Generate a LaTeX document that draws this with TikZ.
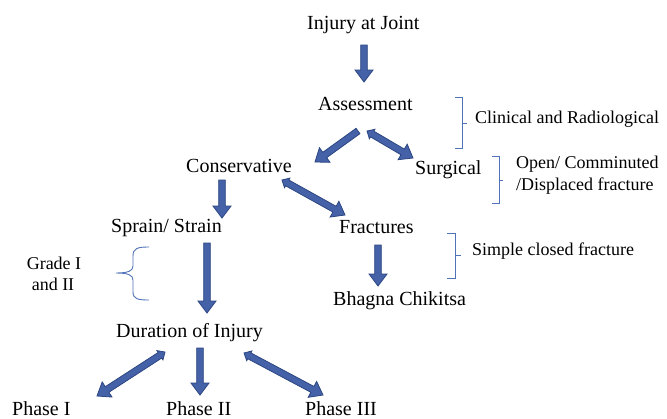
\documentclass[tikz,border=0pt]{standalone}
\usepackage{fontspec}
\setmainfont{Liberation Serif}
\usetikzlibrary{calc}
\definecolor{afill}{HTML}{4562A8}
\definecolor{aline}{HTML}{2C4682}
\definecolor{brk}{HTML}{4F72B8}
\def\shw{3.3pt}
\def\hhw{9pt}
\tikzset{
  main/.style={font=\fontsize{20}{24}\selectfont, inner sep=0pt, anchor=base west},
  note/.style={font=\fontsize{18}{21}\selectfont, inner sep=0pt, anchor=base west},
  blk/.style={fill=afill, draw=aline, line width=0.8pt, line join=miter},
  brkline/.style={draw=brk, line width=0.9pt}
}
\newcommand{\blkarrow}[2]{%
  \coordinate (hb) at ($(#2)!12pt!(#1)$);
  \filldraw[blk] ($(#1)!\shw!90:(#2)$) -- ($(hb)!\shw!90:(#2)$) -- ($(hb)!\hhw!90:(#2)$) -- (#2)
    -- ($(hb)!\hhw!-90:(#2)$) -- ($(hb)!\shw!-90:(#2)$) -- ($(#1)!\shw!-90:(#2)$) -- cycle;}
\newcommand{\blkarrowt}[2]{%
  \coordinate (hb) at ($(#2)!12pt!(#1)$);
  \coordinate (tb) at ($(#1)!6pt!(#2)$);
  \filldraw[blk] (#1) -- ($(tb)!5.5pt!90:(#2)$) -- ($(tb)!\shw!90:(#2)$) -- ($(hb)!\shw!90:(#2)$)
    -- ($(hb)!\hhw!90:(#2)$) -- (#2) -- ($(hb)!\hhw!-90:(#2)$) -- ($(hb)!\shw!-90:(#2)$)
    -- ($(tb)!\shw!-90:(#2)$) -- ($(tb)!5.5pt!-90:(#2)$) -- cycle;}
\begin{document}
\begin{tikzpicture}[x=1pt,y=-1pt]
\useasboundingbox (0,0) rectangle (667,418);
\fill[white] (0,0) rectangle (667,418);
% texts
\node[main] (inj) at (307,29.5) {Injury at Joint};
\node[main] (ass) at (318,110) {Assessment};
\node[note] (clin) at (475,123) {Clinical and Radiological};
\node[main] (cons) at (186,172) {Conservative};
\node[main] (surg) at (415,174) {Surgical};
\node[note] (open1) at (516,168) {Open/ Comminuted};
\node[note] (open2) at (516,190) {/Displaced fracture};
\node[main] (spr) at (111,232) {Sprain/ Strain};
\node[main] (frac) at (339,233) {Fractures};
\node[note] (simp) at (472,255) {Simple closed fracture};
\node[main] (bhag) at (333,305) {Bhagna Chikitsa};
\node[note, anchor=base] (gr1) at (54,269) {Grade I};
\node[note, anchor=base] (gr2) at (53,290) {and II};
\node[main] (dur) at (116,337) {Duration of Injury};
\node[main] (ph1) at (12,415) {Phase I};
\node[main] (ph2) at (166,415) {Phase II};
\node[main] (ph3) at (305,415) {Phase III};
% arrow end points
\coordinate (a1s) at (364,45);  \coordinate (a1e) at (364,82);
\coordinate (a2s) at (358,131); \coordinate (a2e) at (315,162);
\coordinate (a3s) at (367,131); \coordinate (a3e) at (413,158);
\coordinate (a4s) at (222,180); \coordinate (a4e) at (222,218);
\coordinate (a5s) at (282,180); \coordinate (a5e) at (345,215);
\coordinate (a6s) at (207,243); \coordinate (a6e) at (207,313);
\coordinate (a7s) at (378,245); \coordinate (a7e) at (378,286);
\coordinate (a8s) at (165,352); \coordinate (a8e) at (97,396);
\coordinate (a9s) at (200,348); \coordinate (a9e) at (200,395);
\coordinate (a10s) at (244,353); \coordinate (a10e) at (323,395);
\blkarrow{a1s}{a1e}
\blkarrow{a2s}{a2e}
\blkarrowt{a3s}{a3e}
\blkarrow{a4s}{a4e}
\blkarrowt{a5s}{a5e}
\blkarrow{a6s}{a6e}
\blkarrow{a7s}{a7e}
\blkarrowt{a8s}{a8e}
\blkarrow{a9s}{a9e}
\blkarrowt{a10s}{a10e}
% brackets
\draw[brkline] (455,97) -- (462,97) -- (462,148) -- (455,148);
\draw[brkline] (462,123) -- (467,123);
\draw[brkline] (492,156) -- (499,156) -- (499,203) -- (492,203);
\draw[brkline] (499,180) -- (503,180);
\draw[brkline] (447,233) -- (455,233) -- (455,278) -- (447,278);
\draw[brkline] (455,255) -- (461,255);
\draw[brkline] (149,247) .. controls (138,247) and (133,248) .. (133,256) -- (133,266)
  .. controls (133,271) and (128,273) .. (116,273)
  .. controls (128,273) and (133,275) .. (133,280) -- (133,292)
  .. controls (133,299) and (138,300) .. (149,300);
\end{tikzpicture}
\end{document}
